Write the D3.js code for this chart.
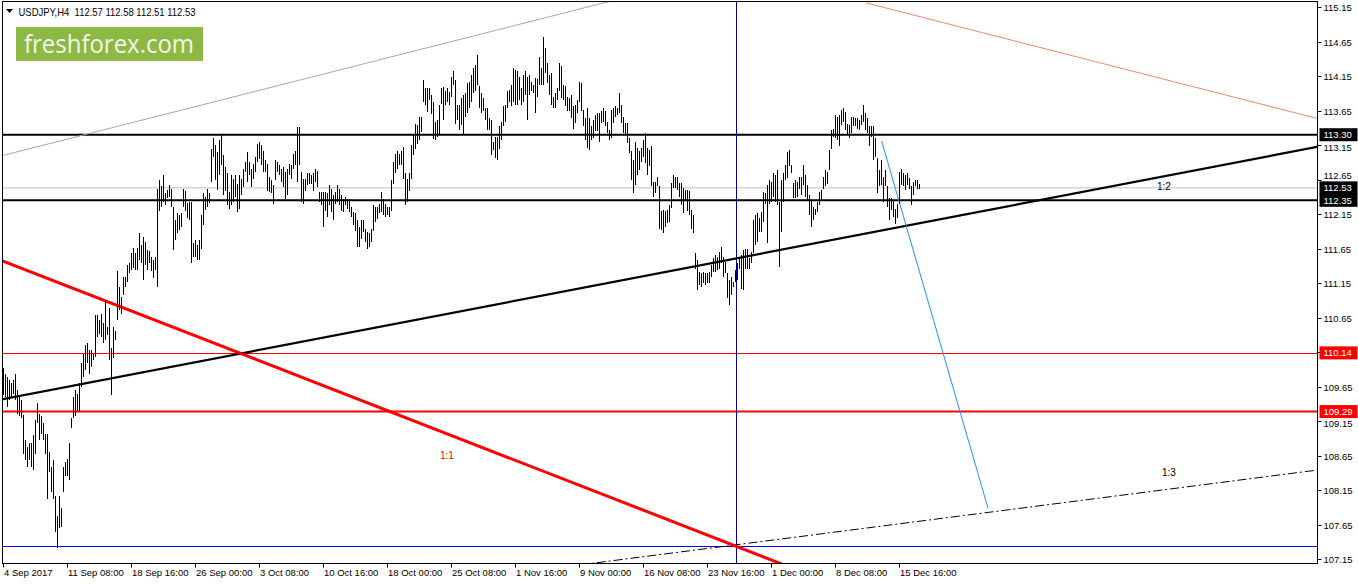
<!DOCTYPE html>
<html><head><meta charset="utf-8">
<script src="https://cdn.jsdelivr.net/npm/d3@7"></script>
<style>html,body{margin:0;padding:0;background:#fff;overflow:hidden}</style>
</head><body>
<svg id="c" width="1358" height="584"></svg>
<script>
// ---------- DATA ----------
const symbolTitle = "USDJPY,H4  112.57 112.58 112.51 112.53";
const brandText = "freshforex.com";

// H4 bar highs / lows, 4 Sep 2017 -> 18 Dec 2017
const highs = [
109.92,109.83,109.79,109.75,109.70,109.75,109.83,109.60,109.50,109.46,
109.24,108.88,108.78,108.83,108.83,108.95,109.17,109.41,109.26,109.22,
109.12,108.97,108.97,108.71,108.49,108.59,108.06,107.77,108.06,107.89,
108.49,108.56,108.61,108.83,109.19,109.50,109.60,109.55,109.70,109.99,
110.13,110.25,110.28,110.18,110.18,110.13,110.69,110.69,110.62,110.71,
110.57,110.91,110.52,110.79,110.21,110.52,110.45,111.32,111.10,110.95,
111.24,111.24,111.41,111.44,111.58,111.66,111.58,111.66,111.87,111.70,
111.82,111.75,111.63,111.61,111.53,111.49,111.53,112.52,112.65,112.55,
112.72,112.45,112.50,112.57,112.52,112.26,112.07,112.16,112.14,112.16,
112.52,112.48,112.31,112.33,112.33,111.73,111.78,111.70,111.78,112.14,
112.45,112.40,112.52,112.45,
113.10,113.25,113.15,113.05,113.22,113.30,113.00,
112.83,112.74,112.47,112.71,112.66,112.71,112.59,112.71,112.66,112.81,
112.90,113.05,112.90,112.81,112.88,112.98,113.17,113.19,113.15,113.07,
112.93,112.88,112.69,112.64,112.57,112.93,112.90,112.86,112.81,112.83,
112.76,112.81,112.88,112.86,113.02,113.07,113.41,113.41,112.76,112.66,
112.66,112.74,112.74,112.71,112.74,112.81,112.78,112.47,112.47,112.47,
112.47,112.45,112.57,112.52,112.42,112.47,112.57,112.52,112.42,112.37,
112.40,112.37,112.37,112.25,112.18,112.16,112.06,111.96,112.06,112.06,
111.94,111.89,111.87,111.94,112.28,112.25,112.25,112.30,112.47,112.37,
112.30,112.25,112.25,112.64,112.90,113.02,113.07,113.02,113.07,113.12,
112.74,112.66,112.74,113.15,113.29,113.46,113.44,113.56,113.56,114.09,
113.97,113.97,113.97,113.87,113.77,113.48,113.51,113.73,113.97,113.99,
113.94,113.97,113.92,114.14,114.23,114.09,113.73,
113.73,113.83,113.88,113.90,114.05,114.07,114.17,114.26,114.31,114.46,
114.00,113.90,113.83,113.68,113.68,113.54,113.52,113.20,113.27,113.27,
113.42,113.49,113.71,113.73,113.93,113.95,114.02,114.26,114.24,114.22,
114.14,113.97,114.17,114.22,114.14,114.17,114.07,114.02,114.12,114.10,
114.43,114.26,114.72,114.55,114.34,114.17,114.19,113.85,113.90,113.97,
114.34,114.29,114.02,114.00,113.85,113.83,113.88,113.71,113.73,113.81,
114.07,114.05,113.66,113.54,113.68,113.54,113.42,113.52,113.59,113.61,
113.61,113.64,113.68,113.64,113.49,113.37,113.66,113.68,113.71,113.68,
113.90,113.73,113.56,113.47,113.47,113.25,113.06,112.94,113.20,113.11,
113.06,113.11,113.23,113.32,113.11,113.08,113.13,112.62,112.62,112.69,
112.55,112.19,112.21,112.19,112.21,112.28,112.60,112.72,112.69,112.69,
112.60,112.60,112.53,112.50,112.50,112.48,
112.21,112.14,111.58,111.48,111.31,111.29,111.31,111.29,111.29,111.31,
111.41,111.51,111.56,111.53,111.60,111.68,111.53,111.46,111.29,111.19,
111.24,111.17,111.34,111.44,111.53,111.56,111.63,111.65,111.65,111.51,
111.60,112.06,112.14,112.16,112.09,112.18,112.47,112.45,112.57,112.64,
112.62,112.74,112.72,112.79,112.33,112.64,112.74,112.86,113.05,113.08,
112.86,112.60,112.64,112.62,112.69,112.69,112.86,112.72,112.57,112.43,
112.35,112.26,112.23,112.33,112.47,112.50,112.69,112.79,112.76,113.08,
113.37,113.39,113.58,113.56,113.58,113.66,113.68,113.63,113.46,113.44,
113.56,113.56,113.54,113.54,113.51,113.58,113.73,113.61,113.54,113.42,
113.42,113.42,113.25,112.96,112.79,112.93,112.69,112.79,112.55,112.38,
112.38,112.35,112.23,112.30,112.76,112.81,112.74,112.72,112.74,112.67,
112.55,112.62,112.64,112.64,112.58
];
const lows = [
109.53,109.50,109.36,109.46,109.50,109.55,109.46,109.26,109.22,109.19,
108.68,108.59,108.49,108.59,108.49,108.44,108.68,109.12,108.88,108.97,
108.88,108.68,108.03,108.42,108.13,108.03,107.55,107.31,107.60,107.62,
108.13,108.35,108.35,108.30,109.05,109.19,109.22,109.29,109.29,109.65,
109.79,109.89,109.99,109.84,109.94,110.04,110.08,110.37,110.42,110.37,
110.28,110.33,110.40,110.04,109.53,110.06,110.33,110.62,110.76,110.71,
110.98,111.10,111.17,111.29,111.34,111.37,111.34,111.34,111.49,111.44,
111.20,111.41,111.34,111.44,111.32,111.22,111.34,111.10,112.19,112.26,
112.33,112.28,112.38,112.40,112.26,111.63,111.78,111.87,111.92,111.97,
112.26,112.19,112.09,112.07,111.44,111.53,111.53,111.49,111.49,111.65,
111.99,112.21,112.26,112.31,
112.61,112.98,112.64,112.50,112.72,112.86,112.43,
112.49,112.28,112.23,112.28,112.32,112.40,112.18,112.23,112.42,112.54,
112.76,112.61,112.71,112.54,112.66,112.76,112.90,112.95,112.86,112.76,
112.76,112.49,112.47,112.45,112.30,112.64,112.76,112.71,112.61,112.54,
112.37,112.42,112.71,112.66,112.81,112.86,112.61,112.86,112.32,112.30,
112.49,112.57,112.59,112.59,112.49,112.61,112.54,112.32,112.28,111.96,
112.20,112.11,112.28,112.18,112.06,112.30,112.32,112.28,112.20,112.18,
112.28,112.23,112.18,112.11,111.99,111.91,111.67,111.67,111.79,111.89,
111.74,111.65,111.67,111.74,111.91,112.04,112.08,112.16,112.18,112.13,
112.11,112.13,112.11,112.20,112.59,112.74,112.81,112.86,112.86,112.66,
112.28,112.32,112.49,112.66,113.00,113.10,113.17,113.22,113.34,113.77,
113.73,113.63,113.80,113.60,113.24,113.22,113.27,113.31,113.75,113.51,
113.73,113.77,113.73,113.85,114.02,113.46,113.51,
113.37,113.44,113.30,113.56,113.61,113.68,113.78,113.90,113.93,114.02,
113.68,113.61,113.64,113.52,113.37,113.37,113.01,113.08,112.96,112.94,
113.10,113.23,113.42,113.49,113.68,113.78,113.71,113.78,113.73,113.73,
113.81,113.73,113.78,113.88,113.52,113.88,113.93,113.90,113.61,113.85,
114.02,114.02,114.02,114.19,114.05,113.88,113.73,113.68,113.68,113.81,
113.93,113.83,113.81,113.71,113.64,113.64,113.54,113.39,113.47,113.61,
113.78,113.64,113.42,113.23,113.11,113.08,113.23,113.25,113.35,113.35,
113.20,113.47,113.49,113.42,113.32,113.23,113.25,113.47,113.56,113.59,
113.61,113.47,113.32,113.30,113.18,113.03,112.65,112.45,112.57,112.72,
112.79,112.91,112.98,112.89,112.72,112.84,112.55,112.40,112.45,112.55,
111.94,111.92,111.87,111.97,112.02,112.04,112.24,112.53,112.53,112.50,
112.40,112.28,112.16,112.36,112.19,112.14,
111.94,111.87,111.36,111.05,111.12,111.10,111.15,111.12,111.15,111.15,
111.24,111.31,111.31,111.34,111.36,111.44,111.24,111.29,110.93,110.83,
110.98,111.10,111.17,111.19,111.36,111.07,111.05,111.36,111.36,111.36,
111.44,111.58,111.70,111.75,111.89,111.89,112.04,112.30,111.73,112.30,
112.33,112.40,112.33,112.28,111.39,111.89,112.33,112.64,112.67,112.84,
112.74,112.38,112.38,112.40,112.52,112.43,112.57,112.40,112.35,112.14,
111.97,112.06,112.14,112.18,112.28,112.35,112.52,112.55,112.59,112.79,
113.10,113.27,113.25,113.22,113.13,113.44,113.49,113.37,113.30,113.25,
113.32,113.42,113.42,113.39,113.37,113.44,113.49,113.37,113.32,113.13,
113.27,112.93,112.98,112.45,112.55,112.57,112.33,112.55,112.26,112.06,
112.21,112.11,112.01,112.09,112.30,112.57,112.55,112.50,112.57,112.52,
112.28,112.43,112.55,112.52,112.51
];

// time-axis labels (one every 32 H4 bars)
const dateLabels = ["4 Sep 2017","11 Sep 08:00","18 Sep 16:00","26 Sep 00:00","3 Oct 08:00",
  "10 Oct 16:00","18 Oct 00:00","25 Oct 08:00","1 Nov 16:00","9 Nov 00:00","16 Nov 08:00",
  "23 Nov 16:00","1 Dec 00:00","8 Dec 08:00","15 Dec 16:00"];
const barsPerLabel = 32;
const visibleBars = 656;

// price axis
const priceTicks = [115.15,114.65,114.15,113.65,113.15,112.65,112.15,111.65,111.15,
  110.65,110.15,109.65,109.15,108.65,108.15,107.65,107.15];
const priceMin = 107.15, priceMax = 115.15;

// horizontal levels
const blackLevels = [113.30, 112.35];
const redThinLevel = 110.14;
const redThickLevel = 109.29;
const blueLevel = 107.34;
const bidPrice = 112.53;
const tagPricesBlack = [113.30, 112.53, 112.35];
const tagPricesRed = [110.14, 109.29];

// vertical marker (bar index)
const vMarkerBar = 366.5;

// trend lines: [barIndex, price] anchor pairs
const grayTrend   = [[0, 113.00], [300.5, 115.21]];
const salmonTrend = [[431.5, 115.21], [656.5, 113.54]];
const redTrend    = [[0, 111.47], [366.5, 107.34]];
const blackTrend  = [[0, 109.47], [656.5, 113.12]];
const blueSegment = [[439.3, 113.21], [492.5, 107.89]];
const dashTrend   = [[366.5, 107.36], [656.5, 108.44]];

// fan labels: [text, barIndex, price]
const fanLabels = [["1:1", 218.5, 108.60], ["1:2", 577, 112.50], ["1:3", 579.5, 108.35]];

// ---------- DRAW ----------
const svg = d3.select("#c");
const L = 2.5, R = 1317.5, T = 1.5, B = 563.5;
const x = d3.scaleLinear().domain([0, visibleBars]).range([3, 3 + 2 * visibleBars]);
const y = d3.scaleLinear().domain([priceMin, priceMax]).range([559.3, 7]);
const FONT = "'Liberation Sans', Arial, sans-serif";

svg.append("rect").attr("width", 1358).attr("height", 584).attr("fill", "#fff");

const defs = svg.append("defs");
defs.append("clipPath").attr("id", "plot").append("rect")
  .attr("x", L + 0.5).attr("y", T + 0.5).attr("width", R - L - 1).attr("height", B - T - 1);

const plot = svg.append("g").attr("clip-path", "url(#plot)");

function extend(pts, i0, i1) {
  const [[a, pa], [b, pb]] = pts;
  const s = (pb - pa) / (b - a);
  return [[i0, pa + s * (i0 - a)], [i1, pa + s * (i1 - a)]];
}
const lineGen = d3.line().x(d => x(d[0])).y(d => y(d[1]));

// horizontal levels
plot.append("line").attr("x1", L).attr("x2", R).attr("y1", y(bidPrice)).attr("y2", y(bidPrice))
  .attr("stroke", "#c0c0c0").attr("stroke-width", 1);
plot.append("line").attr("x1", L).attr("x2", R).attr("y1", Math.round(y(redThinLevel)) + 0.5).attr("y2", Math.round(y(redThinLevel)) + 0.5)
  .attr("stroke", "#ff0000").attr("stroke-width", 1);
plot.append("line").attr("x1", L).attr("x2", R).attr("y1", y(redThickLevel)).attr("y2", y(redThickLevel))
  .attr("stroke", "#ff0000").attr("stroke-width", 2);
plot.append("line").attr("x1", L).attr("x2", R).attr("y1", Math.round(y(blueLevel)) + 0.5).attr("y2", Math.round(y(blueLevel)) + 0.5)
  .attr("stroke", "#0000ff").attr("stroke-width", 1);
blackLevels.forEach(p => {
  plot.append("line").attr("x1", L).attr("x2", R).attr("y1", y(p)).attr("y2", y(p))
    .attr("stroke", "#000").attr("stroke-width", 2);
});

// vertical marker
plot.append("line").attr("x1", Math.round(x(vMarkerBar)) + 0.5).attr("x2", Math.round(x(vMarkerBar)) + 0.5)
  .attr("y1", T).attr("y2", B).attr("stroke", "#00009c").attr("stroke-width", 1);

// trend lines
plot.append("path").attr("d", lineGen(extend(grayTrend, -5, 320)))
  .attr("fill", "none").attr("stroke", "#a8a8a8").attr("stroke-width", 1);
plot.append("path").attr("d", lineGen(extend(salmonTrend, 431.5, 670)))
  .attr("fill", "none").attr("stroke", "#f4866a").attr("stroke-width", 1);
plot.append("path").attr("d", lineGen(extend(dashTrend, 280, 670)))
  .attr("fill", "none").attr("stroke", "#000").attr("stroke-width", 1).attr("stroke-dasharray", "9,3,2,3");
plot.append("path").attr("d", lineGen(extend(blackTrend, -5, 670)))
  .attr("fill", "none").attr("stroke", "#000").attr("stroke-width", 2.2);
plot.append("path").attr("d", lineGen(extend(redTrend, -5, 400)))
  .attr("fill", "none").attr("stroke", "#ff0000").attr("stroke-width", 3);
plot.append("path").attr("d", lineGen(blueSegment))
  .attr("fill", "none").attr("stroke", "#1e90ff").attr("stroke-width", 1);

// bars
plot.append("g").selectAll("rect").data(highs).join("rect")
  .attr("x", (d, i) => x(i))
  .attr("width", 1)
  .attr("y", d => Math.round(y(d)))
  .attr("height", (d, i) => Math.max(1, Math.round(y(lows[i])) - Math.round(y(d))))
  .attr("fill", "#000")
  .attr("shape-rendering", "crispEdges");

// fan labels
fanLabels.forEach(([t, i, p], k) => {
  plot.append("text").attr("x", x(i)).attr("y", y(p))
    .attr("font-family", FONT).attr("font-size", 10)
    .attr("fill", k === 0 ? "#ff0000" : "#000").text(t);
});

// frame
svg.append("rect").attr("x", L).attr("y", T).attr("width", R - L).attr("height", B - T)
  .attr("fill", "none").attr("stroke", "#000").attr("stroke-width", 1);

// price axis
const ya = svg.append("g");
const tagPrices = tagPricesBlack.concat(tagPricesRed);
priceTicks.forEach(p => {
  const yy = Math.round(y(p)) + 0.5;
  ya.append("line").attr("x1", R).attr("x2", R + 4).attr("y1", yy).attr("y2", yy).attr("stroke", "#000");
  // tick text fully hidden under a price tag is not shown; partly hidden text is nudged clear
  let ty = yy, hidden = false;
  tagPrices.forEach(tp => {
    const d = ty - y(tp);
    if (Math.abs(d) < 4) hidden = true;
    else if (Math.abs(d) < 12.5) ty = y(tp) + (d >= 0 ? 12.5 : -12.5);
  });
  if (hidden) return;
  ya.append("text").attr("x", R + 6).attr("y", ty).attr("dy", "0.35em")
    .attr("font-family", FONT).attr("font-size", 9.5).attr("fill", "#000").text(p.toFixed(2));
});
function tag(p, bg) {
  const yy = y(p);
  ya.append("rect").attr("x", R + 2).attr("y", yy - 6.5).attr("width", 38).attr("height", 13).attr("fill", bg);
  ya.append("text").attr("x", R + 6).attr("y", yy).attr("dy", "0.35em")
    .attr("font-family", FONT).attr("font-size", 9.5).attr("fill", "#fff").text(p.toFixed(2));
}
tagPricesBlack.forEach(p => tag(p, "#000"));
tagPricesRed.forEach(p => tag(p, "#ff0000"));

// time axis
const xa = svg.append("g");
dateLabels.forEach((t, k) => {
  const xx = Math.round(x(k * barsPerLabel)) + 0.5;
  xa.append("line").attr("x1", xx).attr("x2", xx).attr("y1", B).attr("y2", B + 4).attr("stroke", "#000");
  xa.append("text").attr("x", xx + 0.5).attr("y", 576)
    .attr("font-family", FONT).attr("font-size", 9.5).attr("fill", "#000").text(t);
});

// title
svg.append("path").attr("d", "M6,9 L13,9 L9.5,13 Z").attr("fill", "#000");
svg.append("text").attr("x", 18.5).attr("y", 15.5).attr("font-family", FONT).attr("font-size", 10.5)
  .attr("fill", "#000").attr("xml:space", "preserve").style("white-space", "pre")
  .attr("textLength", 177).attr("lengthAdjust", "spacingAndGlyphs").text(symbolTitle);

// brand
svg.append("rect").attr("x", 16).attr("y", 27).attr("width", 187).attr("height", 34).attr("fill", "#8cb843");
svg.append("text").attr("x", 24).attr("y", 53).attr("font-family", "'Open Sans', sans-serif")
  .attr("font-size", 25).attr("fill", "#f4f8ec").attr("textLength", 170).attr("lengthAdjust", "spacingAndGlyphs")
  .text(brandText);
</script>
</body></html>
